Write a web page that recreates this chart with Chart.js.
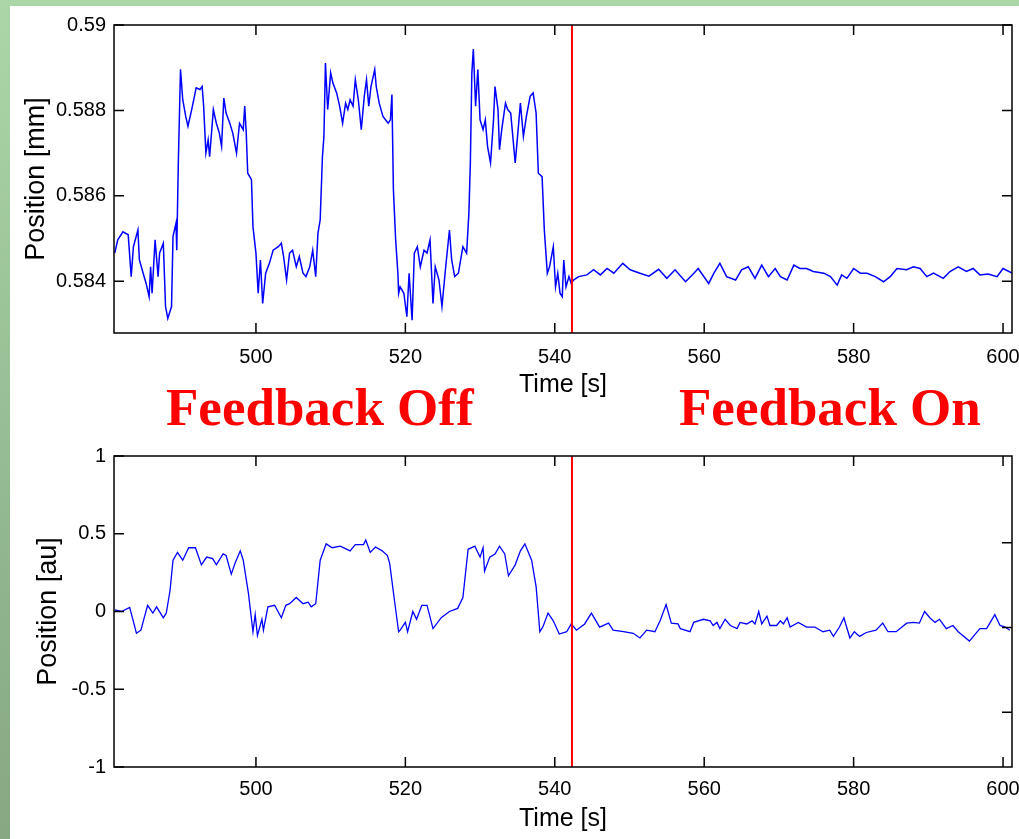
<!DOCTYPE html>
<html>
<head>
<meta charset="utf-8">
<script src="https://cdn.jsdelivr.net/npm/chart.js@4.4.1/dist/chart.umd.min.js"></script>
<style>
  html, body { margin: 0; padding: 0; }
  body {
    width: 1019px; height: 839px; position: relative; overflow: hidden;
    background: linear-gradient(to bottom, #acd6a8 0%, #93b990 60%, #86a883 100%);
  }
  #panel { position: absolute; left: 10px; top: 6px; right: 0; bottom: 0; background: #fff; }
  canvas { position: absolute; left: 0; }
  #topChart { top: 0; }
  #botChart { top: 410px; }
  .note {
    position: absolute; top: 377px; line-height: 53px; white-space: nowrap;
    font: bold 53px "Liberation Serif", "Times New Roman", serif; color: #ff0000;
  }
</style>
</head>
<body>
<div id="panel"></div>
<canvas id="topChart" width="1019" height="410"></canvas>
<canvas id="botChart" width="1019" height="429"></canvas>
<div class="note" style="left:166px">Feedback Off</div>
<div class="note" style="left:679px">Feedback On</div>
<script>
// shared time axis
const xMin = 481, xMax = 601.2;
const xTicks = [500, 520, 540, 560, 580, 600];
const xTickLabels = ['500', '520', '540', '560', '580', '600'];
const feedbackTime = 542.3;

// upper panel: position in mm
const topYMin = 0.58279, topYMax = 0.59;
const topYTicks = [0.584, 0.586, 0.588, 0.59];
const topYTickLabels = ['0.584', '0.586', '0.588', '0.59'];

const topTime = [
  481.1, 481.5, 482.2, 482.9, 483.3, 483.6, 484.2, 484.4, 484.9, 485.3, 485.7, 485.9, 486.1, 486.5, 486.9,
  487.1, 487.6, 487.9, 488.2, 488.7, 488.9, 489.3, 489.4, 489.6, 489.9, 490.2, 490.6, 490.9, 491.4, 492.0,
  492.5, 492.8, 493.0, 493.3, 493.6, 493.8, 494.3, 494.7, 495.1, 495.4, 495.7, 496.0, 496.5, 496.9, 497.4,
  497.8, 498.3, 498.5, 498.7, 498.9, 499.4, 499.6, 500.0, 500.3, 500.6, 500.9, 501.3, 501.8, 502.3, 503.0,
  503.4, 503.7, 504.1, 504.5, 504.9, 505.4, 505.8, 506.3, 506.7, 507.2, 507.6, 508.0, 508.3, 508.6, 508.9,
  509.1, 509.3, 509.6, 510.0, 510.3, 510.8, 511.2, 511.6, 512.0, 512.3, 512.6, 513.0, 513.3, 513.7, 514.1,
  514.5, 514.8, 515.1, 515.4, 515.9, 516.1, 516.5, 517.0, 517.7, 518.0, 518.2, 518.4, 518.7, 519.0, 519.1,
  519.3, 519.8, 520.2, 520.5, 520.9, 521.2, 521.6, 522.0, 522.5, 522.9, 523.3, 523.7, 524.0, 524.5, 524.9,
  525.4, 525.9, 526.2, 526.6, 527.1, 527.7, 528.2, 528.5, 528.7, 528.9, 529.1, 529.4, 529.7, 530.0, 530.4,
  530.7, 531.0, 531.4, 531.8, 532.0, 532.4, 532.6, 532.9, 533.4, 533.7, 534.1, 534.7, 534.9, 535.4, 535.8,
  536.2, 536.7, 537.1, 537.5, 537.8, 538.3, 538.6, 539.0, 539.3, 539.8, 540.1, 540.4, 540.7, 541.0, 541.2,
  541.5, 541.9, 542.2, 542.5, 543.2, 544.3, 545.2, 546.1, 547.0, 547.9, 549.1, 550.1, 551.4, 552.6, 553.9,
  555.0, 556.1, 557.5, 558.4, 559.2, 560.6, 561.3, 562.1, 563.0, 564.2, 565.0, 565.9, 566.8, 567.7, 568.6,
  569.5, 570.2, 571.1, 572.0, 572.8, 573.7, 574.6, 576.0, 576.9, 577.8, 578.4, 579.1, 580.0, 580.9, 581.8,
  582.9, 584.0, 584.9, 585.8, 587.1, 588.0, 588.9, 589.8, 590.7, 592.0, 592.9, 594.0, 595.1, 596.0, 596.9,
  598.0, 599.2, 600.0, 601.2
];
const topPos = [
  0.58466, 0.58497, 0.58516, 0.58509, 0.58411, 0.58481, 0.58520, 0.58450, 0.58419, 0.58395, 0.58364, 0.58434, 0.58372, 0.58497, 0.58411,
  0.58466, 0.58489, 0.58341, 0.58313, 0.58341, 0.58505, 0.58536, 0.58473, 0.58669, 0.58896, 0.58825, 0.58786, 0.58763, 0.58802, 0.58853,
  0.58849, 0.58856, 0.58810, 0.58700, 0.58731, 0.58692, 0.58802, 0.58770, 0.58747, 0.58716, 0.58829, 0.58794, 0.58770, 0.58747, 0.58700,
  0.58770, 0.58755, 0.58810, 0.58747, 0.58653, 0.58638, 0.58528, 0.58466, 0.58372, 0.58450, 0.58348, 0.58419, 0.58442, 0.58473, 0.58481,
  0.58489, 0.58458, 0.58403, 0.58466, 0.58473, 0.58434, 0.58458, 0.58419, 0.58411, 0.58434, 0.58473, 0.58411, 0.58513, 0.58544, 0.58692,
  0.58739, 0.58911, 0.58802, 0.58888, 0.58864, 0.58841, 0.58810, 0.58770, 0.58817, 0.58802, 0.58825, 0.58810, 0.58872, 0.58825, 0.58755,
  0.58833, 0.58872, 0.58810, 0.58856, 0.58896, 0.58856, 0.58817, 0.58786, 0.58770, 0.58778, 0.58837, 0.58614, 0.58497, 0.58419, 0.58372,
  0.58387, 0.58372, 0.58317, 0.58419, 0.58309, 0.58466, 0.58481, 0.58434, 0.58473, 0.58466, 0.58497, 0.58348, 0.58434, 0.58403, 0.58341,
  0.58434, 0.58520, 0.58450, 0.58411, 0.58419, 0.58481, 0.58466, 0.58559, 0.58677, 0.58888, 0.58944, 0.58810, 0.58896, 0.58778, 0.58755,
  0.58778, 0.58716, 0.58677, 0.58778, 0.58856, 0.58802, 0.58708, 0.58755, 0.58817, 0.58802, 0.58794, 0.58677, 0.58716, 0.58817, 0.58739,
  0.58786, 0.58833, 0.58841, 0.58794, 0.58653, 0.58645, 0.58520, 0.58419, 0.58434, 0.58481, 0.58387, 0.58419, 0.58372, 0.58364, 0.58450,
  0.58387, 0.58411, 0.58395, 0.58403, 0.58411, 0.58415, 0.58427, 0.58415, 0.58430, 0.58419, 0.58442, 0.58427, 0.58419, 0.58412, 0.58428,
  0.58407, 0.58427, 0.58399, 0.58415, 0.58430, 0.58395, 0.58419, 0.58442, 0.58411, 0.58403, 0.58427, 0.58434, 0.58407, 0.58438, 0.58411,
  0.58430, 0.58411, 0.58403, 0.58438, 0.58430, 0.58430, 0.58423, 0.58419, 0.58411, 0.58391, 0.58415, 0.58407, 0.58430, 0.58419, 0.58419,
  0.58411, 0.58399, 0.58411, 0.58430, 0.58427, 0.58434, 0.58430, 0.58411, 0.58419, 0.58407, 0.58423, 0.58434, 0.58423, 0.58430, 0.58415,
  0.58417, 0.58411, 0.58430, 0.58419
];

// lower panel: position in arbitrary units
const botYMin = -1, botYMax = 1;
const botYTicks = [-1, -0.5, 0, 0.5, 1];
const botYTickLabels = ['-1', '-0.5', '0', '0.5', '1'];
// the right-hand frame of the lower panel carries its own, shifted tick marks
const botRightMin = -0.8225, botRightMax = 1.011;
const botRightTicks = [-0.5, 0, 0.5];

const botTime = [
  481.1, 482.0, 483.1, 484.0, 484.6, 485.5, 486.2, 486.7, 487.6, 488.0, 488.5, 488.9, 489.5, 490.2, 491.0,
  491.9, 492.7, 493.4, 494.2, 494.7, 495.6, 496.0, 496.7, 497.2, 497.9, 498.3, 499.0, 499.6, 499.9, 500.2,
  500.8, 501.0, 501.6, 502.5, 503.4, 504.0, 504.5, 505.4, 506.3, 507.0, 507.4, 508.0, 508.6, 509.4, 510.2,
  511.3, 512.6, 513.3, 514.4, 514.7, 515.3, 516.0, 516.9, 517.6, 517.9, 518.6, 519.1, 519.3, 520.0, 520.3,
  521.0, 521.5, 522.2, 522.9, 523.7, 524.8, 525.9, 527.0, 527.7, 528.4, 529.3, 530.0, 530.4, 530.6, 531.3,
  532.0, 532.6, 533.3, 533.8, 534.7, 535.4, 536.0, 536.9, 537.5, 538.0, 538.4, 539.1, 539.8, 540.6, 541.6,
  542.2, 542.9, 544.0, 544.9, 546.0, 547.2, 547.8, 549.2, 550.5, 551.4, 552.3, 553.4, 554.1, 554.9, 555.6,
  556.5, 556.8, 558.1, 558.6, 559.9, 560.8, 561.2, 561.7, 562.1, 562.8, 563.5, 564.4, 564.8, 565.7, 566.4,
  566.8, 567.3, 567.7, 568.4, 568.8, 569.7, 570.2, 570.6, 571.1, 571.5, 572.6, 573.7, 574.8, 575.9, 576.8,
  577.3, 578.1, 578.7, 579.0, 579.5, 580.1, 580.8, 581.7, 583.0, 583.9, 584.6, 585.7, 587.1, 588.0, 588.8,
  589.5, 590.2, 590.9, 591.5, 592.4, 593.3, 594.0, 595.5, 596.9, 597.8, 598.9, 599.6, 600.3, 600.9
];
const botPos = [
  0.01, 0.0, 0.026, -0.14, -0.12, 0.04, -0.01, 0.03, -0.04, -0.01, 0.135, 0.33, 0.38, 0.33, 0.41,
  0.41, 0.30, 0.35, 0.34, 0.30, 0.37, 0.36, 0.24, 0.31, 0.39, 0.33, 0.115, -0.13, -0.02, -0.155,
  -0.05, -0.12, 0.03, 0.04, -0.04, 0.04, 0.05, 0.09, 0.05, 0.06, 0.03, 0.05, 0.33, 0.435, 0.41,
  0.42, 0.39, 0.43, 0.43, 0.46, 0.38, 0.415, 0.39, 0.36, 0.31, 0.05, -0.13, -0.12, -0.07, -0.13,
  0.0, -0.05, 0.04, 0.04, -0.11, -0.04, 0.0, 0.02, 0.09, 0.40, 0.42, 0.35, 0.41, 0.26, 0.35,
  0.37, 0.42, 0.37, 0.23, 0.30, 0.39, 0.435, 0.33, 0.16, -0.13, -0.10, -0.01, -0.06, -0.145, -0.13,
  -0.08, -0.12, -0.08, -0.01, -0.10, -0.075, -0.12, -0.13, -0.14, -0.17, -0.12, -0.13, -0.06, 0.045, -0.075,
  -0.08, -0.11, -0.13, -0.07, -0.05, -0.06, -0.09, -0.07, -0.11, -0.05, -0.09, -0.11, -0.07, -0.08, -0.06,
  -0.08, 0.0, -0.08, -0.03, -0.09, -0.09, -0.06, -0.08, -0.04, -0.10, -0.07, -0.10, -0.10, -0.13, -0.12,
  -0.16, -0.10, -0.04, -0.09, -0.17, -0.13, -0.16, -0.135, -0.12, -0.075, -0.13, -0.13, -0.075, -0.07, -0.075,
  0.0, -0.04, -0.07, -0.05, -0.11, -0.09, -0.13, -0.19, -0.11, -0.11, -0.02, -0.09, -0.10, -0.12
];

const sans = '"Liberation Sans", Arial, Helvetica, sans-serif';

// MATLAB style box with inward tick marks on all four sides
const boxTicks = {
    id: 'boxTicks',
    afterDatasetsDraw(chart) {
        const { ctx, chartArea: a, scales } = chart;
        const yLeft = scales.y;
        const yRight = scales.yRight || scales.y;
        const len = 10;
        ctx.save();
        ctx.strokeStyle = '#000';
        ctx.lineWidth = 1.5;
        ctx.beginPath();
        scales.x.ticks.forEach(t => {
            const px = scales.x.getPixelForValue(t.value);
            ctx.moveTo(px, a.bottom); ctx.lineTo(px, a.bottom - len);
            ctx.moveTo(px, a.top); ctx.lineTo(px, a.top + len);
        });
        yLeft.ticks.forEach(t => {
            const py = yLeft.getPixelForValue(t.value);
            ctx.moveTo(a.left, py); ctx.lineTo(a.left + len, py);
        });
        yRight.ticks.forEach(t => {
            const py = yRight.getPixelForValue(t.value);
            ctx.moveTo(a.right, py); ctx.lineTo(a.right - len, py);
        });
        ctx.stroke();
        ctx.strokeRect(a.left, a.top, a.right - a.left, a.bottom - a.top);
        ctx.restore();
    }
};

function makePanel(id, opt) {
    const scales = {
        x: {
            type: 'linear', min: xMin, max: xMax,
            grid: { display: false, drawTicks: false }, border: { display: false },
            afterBuildTicks: s => { s.ticks = xTicks.map(v => ({ value: v })); },
            afterFit: s => { s.height = opt.xHeight; s.paddingLeft = 0; s.paddingRight = 0; },
            ticks: {
                autoSkip: false, maxRotation: 0, padding: opt.xTickPad, color: '#000',
                font: { family: sans, size: 20 },
                callback: (v, i) => xTickLabels[i]
            },
            title: {
                display: true, text: 'Time [s]', color: '#000',
                font: { family: sans, size: 25 }, padding: { top: 0, bottom: opt.xTitlePad }
            }
        },
        y: {
            type: 'linear', position: 'left', min: opt.yMin, max: opt.yMax,
            grid: { display: false, drawTicks: false }, border: { display: false },
            afterBuildTicks: s => { s.ticks = opt.yTicks.map(v => ({ value: v })); },
            afterFit: s => { s.width = 114; s.paddingTop = 0; s.paddingBottom = 0; },
            ticks: {
                autoSkip: false, padding: 8, color: '#000',
                font: { family: sans, size: 20 },
                callback: (v, i) => opt.yTickLabels[i]
            },
            title: {
                display: true, text: opt.yTitle, color: '#000',
                font: { family: sans, size: 27 }, padding: { top: opt.yTitlePad, bottom: 0 }
            }
        }
    };
    if (opt.rightTicks) {
        scales.yRight = {
            type: 'linear', position: 'right', min: opt.rightMin, max: opt.rightMax,
            grid: { display: false, drawTicks: false }, border: { display: false },
            ticks: { display: false },
            afterBuildTicks: s => { s.ticks = opt.rightTicks.map(v => ({ value: v })); },
            afterFit: s => { s.width = 0; }
        };
    }

    return new Chart(document.getElementById(id), {
        type: 'line',
        data: {
            datasets: [
                {
                    data: [{ x: feedbackTime, y: opt.yMin }, { x: feedbackTime, y: opt.yMax }],
                    borderColor: '#ff0000', borderWidth: 2, yAxisID: 'y', order: 0
                },
                {
                    data: opt.time.map((t, i) => ({ x: t, y: opt.pos[i] })),
                    borderColor: '#0000ff', borderWidth: opt.lineWidth, yAxisID: 'y', order: 1
                }
            ]
        },
        options: {
            responsive: false,
            animation: false,
            layout: { padding: { top: opt.padTop, right: 7, left: 0, bottom: 0 } },
            elements: { point: { radius: 0 }, line: { tension: 0 } },
            plugins: { legend: { display: false }, tooltip: { enabled: false } },
            scales: scales
        },
        plugins: [boxTicks]
    });
}

makePanel('topChart', {
    time: topTime, pos: topPos, lineWidth: 1.5,
    yMin: topYMin, yMax: topYMax, yTicks: topYTicks, yTickLabels: topYTickLabels,
    yTitle: 'Position [mm]', yTitlePad: 20,
    padTop: 25, xHeight: 77, xTickPad: 12, xTitlePad: 10
});

makePanel('botChart', {
    time: botTime, pos: botPos, lineWidth: 1.3,
    yMin: botYMin, yMax: botYMax, yTicks: botYTicks, yTickLabels: botYTickLabels,
    rightMin: botRightMin, rightMax: botRightMax, rightTicks: botRightTicks,
    yTitle: 'Position [au]', yTitlePad: 32,
    padTop: 46, xHeight: 72, xTickPad: 10, xTitlePad: 5
});
</script>
</body>
</html>
